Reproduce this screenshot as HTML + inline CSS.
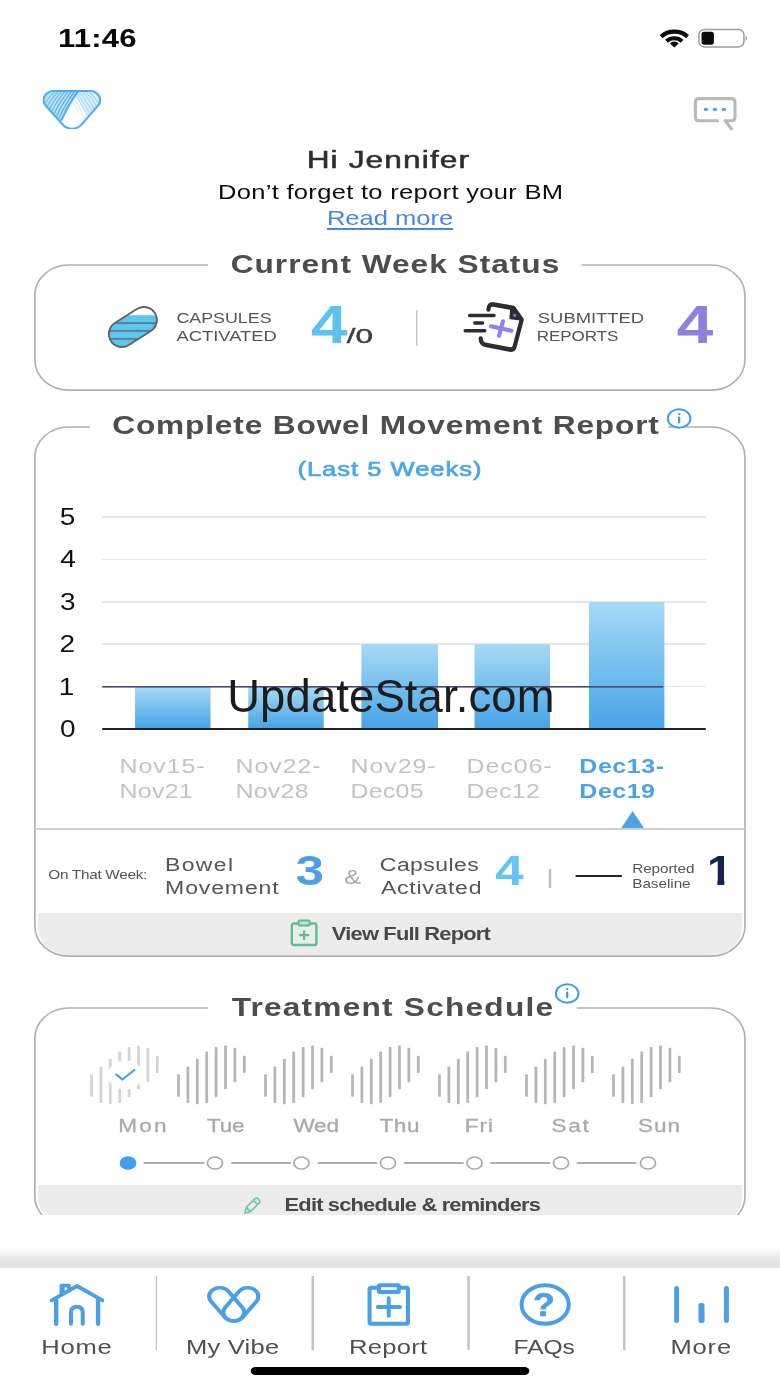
<!DOCTYPE html>
<html><head><meta charset="utf-8"><title>Home</title>
<style>
*{box-sizing:border-box;margin:0;padding:0}
html,body{width:780px;height:1387px;background:#fff;overflow:hidden}
body{position:relative;font-family:"Liberation Sans","DejaVu Sans",sans-serif;color:#222}
#s{position:absolute;left:0;top:0;width:641px;height:1387px;transform:scaleX(1.216849);transform-origin:0 0}
.abs{position:absolute}
.t{position:absolute;white-space:nowrap}
.card{position:absolute;border:2px solid #c2c2c2;border-radius:30px/31px}
#wm{position:absolute;white-space:nowrap;left:227.200px;top:673.800px;font-size:45.400px;line-height:45.400px;color:#1c1c1c;letter-spacing:0.140px}
</style></head><body>
<div id="s">
<div class="t" style="left:47.73px;top:25.91px;font-size:25.5px;line-height:25.5px;letter-spacing:0.180px;color:#0a0a0a;font-weight:bold;">11:46</div>
<svg class="abs" style="left:540.74px;top:28px;" width="26.3" height="21" viewBox="0 0 32 21" preserveAspectRatio="none">
<path d="M2.800 8.600 A18.500 16.500 0 0 1 29.200 8.600" fill="none" stroke="#0a0a0a" stroke-width="4.200"/>
<path d="M8.200 13.300 A11 10 0 0 1 23.800 13.300" fill="none" stroke="#0a0a0a" stroke-width="4"/>
<path d="M16 19.600 L11.600 15.400 A6.300 6.300 0 0 1 20.400 15.400 Z" fill="#0a0a0a"/></svg>
<svg class="abs" style="left:571.97px;top:28px;" width="44.38" height="22" viewBox="0 0 54 22" preserveAspectRatio="none">
<rect x="2.900" y="1.500" width="45" height="17.400" rx="5.400" fill="#fff" stroke="#9c9c9c" stroke-width="1.500"/>
<rect x="5.500" y="3.700" width="12.400" height="13" rx="2.600" fill="#0a0a0a"/>
<path d="M49.600 7.600 Q52.600 10.400 49.600 13.200 Z" fill="#9c9c9c"/></svg>
<svg class="abs" style="left:35.25px;top:89.600px" width="48.16" height="39.4" viewBox="0 0 48.16 39.4"><defs><clipPath id="lc"><path d="M10.10 0.80 L38.06 0.80 A9.3 9.3 0 0 1 45.63 15.50 L31.85 34.80 A9.3 9.3 0 0 1 16.78 34.91 L2.61 15.61 A9.3 9.3 0 0 1 10.10 0.80 Z"/></clipPath></defs><g clip-path="url(#lc)"><path d="M10.10 0.80 L38.06 0.80 A9.3 9.3 0 0 1 45.63 15.50 L31.85 34.80 A9.3 9.3 0 0 1 16.78 34.91 L2.61 15.61 A9.3 9.3 0 0 1 10.10 0.80 Z" fill="#fff"/><path d="M15.34 30.6 L29.6 0 L0 0 L0 39.4 Z" fill="#a8dbf7" fill-opacity="0.800"/><path d="M36.66 26 L24.16 0 L48.16 0 L48.16 39.4 Z" fill="#d2ecfb" fill-opacity="0.850"/><path d="M32.82 30.60 Q26.99 14.50 18.56 0.20" fill="none" stroke="#7cc6f2" stroke-opacity="0.25" stroke-width="0.900"/><path d="M34.69 28.17 Q29.21 13.29 21.13 0.20" fill="none" stroke="#7cc6f2" stroke-opacity="0.32" stroke-width="0.900"/><path d="M36.57 25.74 Q31.44 12.07 23.70 0.20" fill="none" stroke="#7cc6f2" stroke-opacity="0.39" stroke-width="0.900"/><path d="M38.45 23.31 Q33.66 10.86 26.27 0.20" fill="none" stroke="#7cc6f2" stroke-opacity="0.46" stroke-width="0.900"/><path d="M40.33 20.89 Q35.88 9.64 28.84 0.20" fill="none" stroke="#7cc6f2" stroke-opacity="0.53" stroke-width="0.900"/><path d="M42.20 18.46 Q38.11 8.43 31.41 0.20" fill="none" stroke="#7cc6f2" stroke-opacity="0.60" stroke-width="0.900"/><path d="M44.08 16.03 Q40.33 7.21 33.99 0.20" fill="none" stroke="#7cc6f2" stroke-opacity="0.67" stroke-width="0.900"/><path d="M45.96 13.60 Q42.56 6.00 36.56 0.20" fill="none" stroke="#7cc6f2" stroke-opacity="0.74" stroke-width="0.900"/><circle cx="24.28" cy="29.40" r="8.700000000000001" fill="#fff"/><path d="M15.34 30.60 Q21.17 14.50 29.60 0.20" fill="none" stroke="#4aa6ea" stroke-opacity="0.95" stroke-width="1.7"/><path d="M13.46 28.17 Q18.95 13.29 27.03 0.20" fill="none" stroke="#4aa6ea" stroke-opacity="0.90" stroke-width="1.05"/><path d="M11.59 25.74 Q16.72 12.07 24.46 0.20" fill="none" stroke="#4aa6ea" stroke-opacity="0.85" stroke-width="1.05"/><path d="M9.71 23.31 Q14.50 10.86 21.89 0.20" fill="none" stroke="#4aa6ea" stroke-opacity="0.80" stroke-width="1.05"/><path d="M7.83 20.89 Q12.27 9.64 19.31 0.20" fill="none" stroke="#4aa6ea" stroke-opacity="0.75" stroke-width="1.05"/><path d="M5.95 18.46 Q10.05 8.43 16.74 0.20" fill="none" stroke="#4aa6ea" stroke-opacity="0.70" stroke-width="1.05"/><path d="M4.08 16.03 Q7.82 7.21 14.17 0.20" fill="none" stroke="#4aa6ea" stroke-opacity="0.65" stroke-width="1.05"/><path d="M2.20 13.60 Q5.60 6.00 11.60 0.20" fill="none" stroke="#4aa6ea" stroke-opacity="0.60" stroke-width="1.05"/></g><path d="M10.10 0.80 L38.06 0.80 A9.3 9.3 0 0 1 45.63 15.50 L31.85 34.80 A9.3 9.3 0 0 1 16.78 34.91 L2.61 15.61 A9.3 9.3 0 0 1 10.10 0.80 Z" fill="none" stroke="#4eaeec" stroke-width="1.900"/><path d="M11.3 0.9 H36.86" stroke="#4aa6ea" stroke-width="1.600" stroke-linecap="round"/></svg>
<svg class="abs" style="left:568.68px;top:95px;" width="39.45" height="38" viewBox="0 0 48 38" preserveAspectRatio="none">
<path d="M32.400 25.800 H39.100 Q42.600 25.800 42.600 22.300 V7.100 Q42.600 3.600 39.100 3.600 H6.500 Q3 3.600 3 7.100 V22.300 Q3 25.800 6.500 25.800 H26.300" fill="none" stroke="#b9b9b9" stroke-width="3.100" stroke-linecap="butt"/>
<path d="M32.600 25.600 L39 33.800" stroke="#b9b9b9" stroke-width="3.100" stroke-linecap="round"/>
<ellipse cx="13.600" cy="14.400" rx="2.300" ry="1.650" fill="#4aa3e6"/><ellipse cx="22.600" cy="14.400" rx="2.300" ry="1.650" fill="#4aa3e6"/><ellipse cx="31.500" cy="14.400" rx="2.300" ry="1.650" fill="#4aa3e6"/></svg>
<div class="t" style="left:251.56px;top:149.13px;font-size:23px;line-height:23px;letter-spacing:0.817px;color:#2e2e2e;-webkit-text-stroke:0.500px #2e2e2e;transform:scaleX(1.13);transform-origin:0 0;">Hi Jennifer</div>
<div class="t" style="left:179.07px;top:181.22px;font-size:21px;line-height:21px;letter-spacing:0.244px;color:#0d0d0d;">Don’t forget to report your BM</div>
<div class="t" style="left:268.65px;top:206.82px;font-size:21px;line-height:21px;letter-spacing:-0.020px;color:#4a86e0;text-decoration:underline;text-decoration-thickness:1.500px;text-underline-offset:2.500px;">Read more</div>
<div class="abs" style="left:30.65px;top:266.4px;width:579.61px;height:122.7px;border-radius:24.65px/28.5px;overflow:hidden"></div>
<svg class="abs" style="left:27.04px;top:263.2px;" width="586.84" height="129.10000000000002" viewBox="0 0 714.1 129.1" preserveAspectRatio="none"><rect x="2" y="2" width="710.1" height="125.1" rx="34" ry="30" fill="none" stroke="#b0b0b0" stroke-width="1.650"/></svg>
<div class="abs" style="left:170.93px;top:255px;width:307.35px;height:20px;background:#fff;"></div>
<div class="t" style="left:189.59px;top:250.99px;font-size:26px;line-height:26px;letter-spacing:0.821px;color:#4d4d4d;font-weight:bold;">Current Week Status</div>
<svg class="abs" style="left:87.11px;top:304px;" width="45.2" height="46" viewBox="0 0 55 46" preserveAspectRatio="none">
<defs><clipPath id="pc"><rect x="0.950" y="10" width="52.100" height="26" rx="13" transform="rotate(-32.500 27 23)"/></clipPath></defs>
<g clip-path="url(#pc)">
<rect x="0" y="0" width="55" height="46" fill="#fff"/>
<rect x="0" y="11.200" width="55" height="36" fill="#5bc6ee"/>
<g stroke="#557a90" stroke-width="1.800"><path d="M0 19.100 H55 M0 26.900 H55 M0 34.800 H55"/></g>
</g>
<rect x="0.950" y="10" width="52.100" height="26" rx="13" transform="rotate(-32.500 27 23)" fill="none" stroke="#636363" stroke-width="1.900"/></svg>
<div class="t" style="left:144.72px;top:309.96px;font-size:15.4px;line-height:15.4px;letter-spacing:0.000px;color:#555;transform:scaleX(0.952);transform-origin:0 0;">CAPSULES</div>
<div class="t" style="left:145.43px;top:328.16px;font-size:15.4px;line-height:15.4px;letter-spacing:0.000px;color:#555;transform:scaleX(0.9807);transform-origin:0 0;">ACTIVATED</div>
<div class="t" style="left:255.59px;top:296.89px;font-size:54px;line-height:54px;letter-spacing:0.000px;color:#5cc3f0;font-weight:bold;">4</div>
<div class="t" style="left:284.75px;top:325.57px;font-size:20px;line-height:20px;letter-spacing:0.000px;color:#3c3c3c;-webkit-text-stroke:0.400px #3c3c3c;transform:scaleX(1.2905);transform-origin:0 0;">/0</div>
<div class="abs" style="left:341.87px;top:309.5px;width:1.64px;height:36.0px;background:#bdbdbd;"></div>
<svg class="abs" style="left:379.67px;top:302px;" width="52.59" height="50" viewBox="0 0 64 50" preserveAspectRatio="none">
<g transform="translate(0,25) scale(1,1.090) translate(0,-25)"><path d="M26 9 Q26.300 3.800 31 4.300 L51 7.600 L59.300 18.200 L52.300 42.800 Q51.300 46.400 47.300 45.600 L22.800 41.200 Q18.600 40.300 18.300 35.600" fill="none" stroke="#2d2d2f" stroke-width="4.200" stroke-linejoin="round" stroke-linecap="round"/>
<path d="M48.600 6.500 L59.800 18.500 L47.800 17.200 Z" fill="#2d2d2f" stroke="#2d2d2f" stroke-width="1.500" stroke-linejoin="round"/>
<circle cx="52.300" cy="14.300" r="1.600" fill="#7a6fd0"/></g>
<path d="M7.200 13.600 H31.600 M12.400 21.100 H20.200 M2.800 28.800 H22.400" stroke="#2d2d2f" stroke-width="3.500" stroke-linecap="round"/>
<path d="M40.600 19.300 L36.600 33.800 M28.600 24.300 L49 28.700" stroke="#8f82ee" stroke-width="4.200" stroke-linecap="round"/></svg>
<div class="t" style="left:441.77px;top:309.96px;font-size:15.4px;line-height:15.4px;letter-spacing:0.000px;color:#555;transform:scaleX(0.9817);transform-origin:0 0;">SUBMITTED</div>
<div class="t" style="left:441.31px;top:328.16px;font-size:15.4px;line-height:15.4px;letter-spacing:0.000px;color:#555;transform:scaleX(0.9059);transform-origin:0 0;">REPORTS</div>
<div class="t" style="left:556.20px;top:296.89px;font-size:54px;line-height:54px;letter-spacing:0.000px;color:#8d80e0;font-weight:bold;">4</div>
<div class="abs" style="left:30.65px;top:427.8px;width:579.61px;height:526.8px;border-radius:24.65px/28.5px;overflow:hidden"><div class="abs" style="left:0;top:485.7px;width:100%;height:47.3px;background:#ececec"></div></div>
<svg class="abs" style="left:27.04px;top:424.6px;" width="586.84" height="533.1999999999999" viewBox="0 0 714.1 533.2" preserveAspectRatio="none"><rect x="2" y="2" width="710.1" height="529.2" rx="34" ry="30" fill="none" stroke="#b0b0b0" stroke-width="1.650"/></svg>
<div class="abs" style="left:73.96px;top:415px;width:475.0px;height:22px;background:#fff;"></div>
<div class="t" style="left:92.21px;top:411.59px;font-size:26px;line-height:26px;letter-spacing:0.697px;color:#4d4d4d;font-weight:bold;">Complete Bowel Movement Report</div>
<svg class="abs" style="left:546.58px;top:406.8px;" width="22.19" height="23.0" viewBox="0 0 27 23" preserveAspectRatio="none">
<ellipse cx="13.500" cy="11.500" rx="11.300" ry="9.200" fill="#fff" stroke="#3f9fe6" stroke-width="2"/>
<path d="M13.500 10.700 V15.300" stroke="#3f9fe6" stroke-width="2.300" stroke-linecap="round"/><ellipse cx="13.500" cy="7.100" rx="1.350" ry="1.150" fill="#3f9fe6"/></svg>
<div class="t" style="left:244.41px;top:457.72px;font-size:21px;line-height:21px;letter-spacing:0.809px;color:#4ba6ea;-webkit-text-stroke:0.700px #4ba6ea;">(Last 5 Weeks)</div>
<div class="abs" style="left:83.82px;top:516.2px;width:496.36px;height:1.599999999999909px;background:#e6e6e6;"></div>
<div class="abs" style="left:83.82px;top:558.6px;width:496.36px;height:1.599999999999909px;background:#e6e6e6;"></div>
<div class="abs" style="left:83.82px;top:601.0px;width:496.36px;height:1.599999999999909px;background:#e6e6e6;"></div>
<div class="abs" style="left:83.82px;top:643.4000000000001px;width:496.36px;height:1.599999999999909px;background:#e6e6e6;"></div>
<div class="abs" style="left:83.82px;top:685.8000000000001px;width:496.36px;height:1.599999999999909px;background:#e6e6e6;"></div>
<div class="t" style="left:49.21px;top:505.93px;font-size:23px;line-height:23px;letter-spacing:0.000px;color:#111;">5</div>
<div class="t" style="left:49.62px;top:548.33px;font-size:23px;line-height:23px;letter-spacing:0.000px;color:#111;">4</div>
<div class="t" style="left:49.26px;top:590.73px;font-size:23px;line-height:23px;letter-spacing:0.000px;color:#111;">3</div>
<div class="t" style="left:48.98px;top:633.13px;font-size:23px;line-height:23px;letter-spacing:0.000px;color:#111;">2</div>
<div class="t" style="left:48.38px;top:675.53px;font-size:23px;line-height:23px;letter-spacing:0.000px;color:#111;">1</div>
<div class="t" style="left:49.23px;top:717.93px;font-size:23px;line-height:23px;letter-spacing:0.000px;color:#111;">0</div>
<div class="abs" style="left:110.94px;top:687px;width:62.46px;height:41px;background:linear-gradient(#a6daf6,#48a4e6);"></div>
<div class="abs" style="left:203.81px;top:687px;width:62.46px;height:41px;background:linear-gradient(#a6daf6,#48a4e6);"></div>
<div class="abs" style="left:297.49px;top:644.2px;width:62.46px;height:83.79999999999995px;background:linear-gradient(#a6daf6,#48a4e6);"></div>
<div class="abs" style="left:390.35px;top:644.2px;width:62.05px;height:83.79999999999995px;background:linear-gradient(#a6daf6,#48a4e6);"></div>
<div class="abs" style="left:484.04px;top:601.5px;width:62.46px;height:126.5px;background:linear-gradient(#a6daf6,#48a4e6);"></div>
<div class="abs" style="left:83.82px;top:686px;width:461.03px;height:2px;background:linear-gradient(#494975 0,#494975 50%,rgba(73,73,117,0.600) 50%);"></div>
<div class="abs" style="left:83.82px;top:727.6px;width:496.36px;height:2.0px;background:#222;"></div>
<div class="t" style="left:98.17px;top:756.45px;font-size:20.5px;line-height:20.5px;letter-spacing:0.776px;color:#c3c3c3;">Nov15-</div>
<div class="t" style="left:98.17px;top:781.15px;font-size:20.5px;line-height:20.5px;letter-spacing:0.236px;color:#c3c3c3;">Nov21</div>
<div class="t" style="left:193.50px;top:756.45px;font-size:20.5px;line-height:20.5px;letter-spacing:0.776px;color:#c3c3c3;">Nov22-</div>
<div class="t" style="left:193.50px;top:781.15px;font-size:20.5px;line-height:20.5px;letter-spacing:0.211px;color:#c3c3c3;">Nov28</div>
<div class="t" style="left:288.00px;top:756.45px;font-size:20.5px;line-height:20.5px;letter-spacing:0.776px;color:#c3c3c3;">Nov29-</div>
<div class="t" style="left:288.00px;top:781.15px;font-size:20.5px;line-height:20.5px;letter-spacing:0.201px;color:#c3c3c3;">Dec05</div>
<div class="t" style="left:383.33px;top:756.45px;font-size:20.5px;line-height:20.5px;letter-spacing:0.776px;color:#c3c3c3;">Dec06-</div>
<div class="t" style="left:383.33px;top:781.15px;font-size:20.5px;line-height:20.5px;letter-spacing:0.247px;color:#c3c3c3;">Dec12</div>
<div class="t" style="left:476.11px;top:756.45px;font-size:20.5px;line-height:20.5px;letter-spacing:0.464px;color:#4ba3e6;font-weight:bold;">Dec13-</div>
<div class="t" style="left:476.11px;top:781.15px;font-size:20.5px;line-height:20.5px;letter-spacing:0.417px;color:#4ba3e6;font-weight:bold;">Dec19</div>
<svg class="abs" style="left:509.51px;top:811px;" width="19.72" height="18" viewBox="0 0 24 18" preserveAspectRatio="none"><path d="M12 0 L24 18 H0 Z" fill="#4ba3e6"/></svg>
<div class="abs" style="left:29.58px;top:828px;width:582.24px;height:1.6000000000000227px;background:#cfcfcf;"></div>
<div class="t" style="left:39.68px;top:869.33px;font-size:12.6px;line-height:12.6px;letter-spacing:-0.236px;color:#555;">On That Week:</div>
<div class="t" style="left:135.69px;top:855.60px;font-size:18.9px;line-height:18.9px;letter-spacing:1.085px;color:#555;">Bowel</div>
<div class="t" style="left:135.69px;top:878.60px;font-size:18.9px;line-height:18.9px;letter-spacing:0.724px;color:#555;">Movement</div>
<div class="t" style="left:242.82px;top:850.05px;font-size:42px;line-height:42px;letter-spacing:0.000px;color:#4a9fe8;font-weight:bold;">3</div>
<div class="t" style="left:282.78px;top:866.22px;font-size:21px;line-height:21px;letter-spacing:0.000px;color:#aaa;">&amp;</div>
<div class="t" style="left:312.16px;top:855.60px;font-size:18.9px;line-height:18.9px;letter-spacing:0.364px;color:#555;">Capsules</div>
<div class="t" style="left:313.07px;top:878.60px;font-size:18.9px;line-height:18.9px;letter-spacing:0.609px;color:#555;">Activated</div>
<div class="t" style="left:406.98px;top:850.05px;font-size:42px;line-height:42px;letter-spacing:0.000px;color:#63c6f1;font-weight:bold;">4</div>
<div class="abs" style="left:451.17px;top:869px;width:1.64px;height:18.5px;background:#bdbdbd;"></div>
<div class="abs" style="left:472.53px;top:874.6px;width:38.21px;height:2.0px;background:#1d2140;"></div>
<div class="t" style="left:519.57px;top:862.93px;font-size:12.6px;line-height:12.6px;letter-spacing:-0.098px;color:#555;">Reported</div>
<div class="t" style="left:519.57px;top:877.93px;font-size:12.6px;line-height:12.6px;letter-spacing:-0.045px;color:#555;">Baseline</div>
<div class="t" id="one" style="left:580.52px;top:849.65px;font-size:42px;line-height:42px;font-weight:bold;color:#18224f;transform:scaleX(0.9);transform-origin:0 0;clip-path:polygon(0 0,100% 0,100% 0.722em,0.378em 0.722em,0.378em 1em,0.226em 1em,0.226em 0.722em,0 0.722em)">1</div>
<svg class="abs" style="left:238.32px;top:919px;" width="23.83" height="28" viewBox="0 0 29 28" preserveAspectRatio="none">
<rect x="2.200" y="4.500" width="24.600" height="21.500" rx="2" fill="none" stroke="#5dbd94" stroke-width="2.400"/>
<rect x="9" y="1.400" width="11" height="5.200" rx="1" fill="#bfe3d2" stroke="#5dbd94" stroke-width="2"/>
<path d="M14.500 11.500 V21 M9.500 16.200 H19.500" stroke="#5dbd94" stroke-width="2.200"/></svg>
<div class="t" style="left:272.73px;top:924.76px;font-size:18px;line-height:18px;letter-spacing:-0.674px;color:#484848;font-weight:bold;">View Full Report</div>
<div class="abs" style="left:30.65px;top:1008.8px;width:579.61px;height:216.0px;border-radius:24.65px/28.5px;overflow:hidden"><div class="abs" style="left:0;top:176.2px;width:100%;height:46.0px;background:#ececec"></div></div>
<svg class="abs" style="left:27.04px;top:1005.6px;" width="586.84" height="222.39999999999998" viewBox="0 0 714.1 222.4" preserveAspectRatio="none"><rect x="2" y="2" width="710.1" height="218.4" rx="34" ry="30" fill="none" stroke="#b0b0b0" stroke-width="1.650"/></svg>
<div class="abs" style="left:170.93px;top:996px;width:303.24px;height:22px;background:#fff;"></div>
<div class="t" style="left:190.37px;top:993.99px;font-size:26px;line-height:26px;letter-spacing:1.004px;color:#4d4d4d;font-weight:bold;">Treatment Schedule</div>
<svg class="abs" style="left:455.11px;top:981.9px;" width="22.19" height="23.0" viewBox="0 0 27 23" preserveAspectRatio="none">
<ellipse cx="13.500" cy="11.500" rx="11.300" ry="9.200" fill="#fff" stroke="#3f9fe6" stroke-width="2"/>
<path d="M13.500 10.700 V15.300" stroke="#3f9fe6" stroke-width="2.300" stroke-linecap="round"/><ellipse cx="13.500" cy="7.100" rx="1.350" ry="1.150" fill="#3f9fe6"/></svg>
<svg class="abs" style="left:0;top:1040px" width="641" height="70" viewBox="0 0 780 70" preserveAspectRatio="none"><rect x="90.1" y="34.2" width="2.800" height="22.6" rx="0.800" fill="#d4d4d4"/><rect x="99.5" y="26.6" width="2.800" height="36.5" rx="0.800" fill="#d4d4d4"/><rect x="108.9" y="18.8" width="2.800" height="45.4" rx="0.800" fill="#d4d4d4"/><rect x="118.3" y="11.6" width="2.800" height="51.5" rx="0.800" fill="#d4d4d4"/><rect x="127.7" y="7.0" width="2.800" height="50.3" rx="0.800" fill="#d4d4d4"/><rect x="137.1" y="5.4" width="2.800" height="43.8" rx="0.800" fill="#d4d4d4"/><rect x="146.5" y="7.7" width="2.800" height="34.6" rx="0.800" fill="#d4d4d4"/><rect x="155.9" y="15.8" width="2.800" height="17.3" rx="0.800" fill="#d4d4d4"/><rect x="177.1" y="34.2" width="2.800" height="22.6" rx="0.800" fill="#b6b6b6"/><rect x="186.5" y="26.6" width="2.800" height="36.5" rx="0.800" fill="#b6b6b6"/><rect x="195.9" y="18.8" width="2.800" height="45.4" rx="0.800" fill="#b6b6b6"/><rect x="205.3" y="11.6" width="2.800" height="51.5" rx="0.800" fill="#b6b6b6"/><rect x="214.7" y="7.0" width="2.800" height="50.3" rx="0.800" fill="#b6b6b6"/><rect x="224.1" y="5.4" width="2.800" height="43.8" rx="0.800" fill="#b6b6b6"/><rect x="233.5" y="7.7" width="2.800" height="34.6" rx="0.800" fill="#b6b6b6"/><rect x="242.9" y="15.8" width="2.800" height="17.3" rx="0.800" fill="#b6b6b6"/><rect x="264.1" y="34.2" width="2.800" height="22.6" rx="0.800" fill="#b6b6b6"/><rect x="273.5" y="26.6" width="2.800" height="36.5" rx="0.800" fill="#b6b6b6"/><rect x="282.9" y="18.8" width="2.800" height="45.4" rx="0.800" fill="#b6b6b6"/><rect x="292.3" y="11.6" width="2.800" height="51.5" rx="0.800" fill="#b6b6b6"/><rect x="301.7" y="7.0" width="2.800" height="50.3" rx="0.800" fill="#b6b6b6"/><rect x="311.1" y="5.4" width="2.800" height="43.8" rx="0.800" fill="#b6b6b6"/><rect x="320.5" y="7.7" width="2.800" height="34.6" rx="0.800" fill="#b6b6b6"/><rect x="329.9" y="15.8" width="2.800" height="17.3" rx="0.800" fill="#b6b6b6"/><rect x="351.1" y="34.2" width="2.800" height="22.6" rx="0.800" fill="#b6b6b6"/><rect x="360.5" y="26.6" width="2.800" height="36.5" rx="0.800" fill="#b6b6b6"/><rect x="369.9" y="18.8" width="2.800" height="45.4" rx="0.800" fill="#b6b6b6"/><rect x="379.3" y="11.6" width="2.800" height="51.5" rx="0.800" fill="#b6b6b6"/><rect x="388.7" y="7.0" width="2.800" height="50.3" rx="0.800" fill="#b6b6b6"/><rect x="398.1" y="5.4" width="2.800" height="43.8" rx="0.800" fill="#b6b6b6"/><rect x="407.5" y="7.7" width="2.800" height="34.6" rx="0.800" fill="#b6b6b6"/><rect x="416.9" y="15.8" width="2.800" height="17.3" rx="0.800" fill="#b6b6b6"/><rect x="438.1" y="34.2" width="2.800" height="22.6" rx="0.800" fill="#b6b6b6"/><rect x="447.5" y="26.6" width="2.800" height="36.5" rx="0.800" fill="#b6b6b6"/><rect x="456.9" y="18.8" width="2.800" height="45.4" rx="0.800" fill="#b6b6b6"/><rect x="466.3" y="11.6" width="2.800" height="51.5" rx="0.800" fill="#b6b6b6"/><rect x="475.7" y="7.0" width="2.800" height="50.3" rx="0.800" fill="#b6b6b6"/><rect x="485.1" y="5.4" width="2.800" height="43.8" rx="0.800" fill="#b6b6b6"/><rect x="494.5" y="7.7" width="2.800" height="34.6" rx="0.800" fill="#b6b6b6"/><rect x="503.9" y="15.8" width="2.800" height="17.3" rx="0.800" fill="#b6b6b6"/><rect x="525.1" y="34.2" width="2.800" height="22.6" rx="0.800" fill="#b6b6b6"/><rect x="534.5" y="26.6" width="2.800" height="36.5" rx="0.800" fill="#b6b6b6"/><rect x="543.9" y="18.8" width="2.800" height="45.4" rx="0.800" fill="#b6b6b6"/><rect x="553.3" y="11.6" width="2.800" height="51.5" rx="0.800" fill="#b6b6b6"/><rect x="562.7" y="7.0" width="2.800" height="50.3" rx="0.800" fill="#b6b6b6"/><rect x="572.1" y="5.4" width="2.800" height="43.8" rx="0.800" fill="#b6b6b6"/><rect x="581.5" y="7.7" width="2.800" height="34.6" rx="0.800" fill="#b6b6b6"/><rect x="590.9" y="15.8" width="2.800" height="17.3" rx="0.800" fill="#b6b6b6"/><rect x="612.1" y="34.2" width="2.800" height="22.6" rx="0.800" fill="#b6b6b6"/><rect x="621.5" y="26.6" width="2.800" height="36.5" rx="0.800" fill="#b6b6b6"/><rect x="630.9" y="18.8" width="2.800" height="45.4" rx="0.800" fill="#b6b6b6"/><rect x="640.3" y="11.6" width="2.800" height="51.5" rx="0.800" fill="#b6b6b6"/><rect x="649.7" y="7.0" width="2.800" height="50.3" rx="0.800" fill="#b6b6b6"/><rect x="659.1" y="5.4" width="2.800" height="43.8" rx="0.800" fill="#b6b6b6"/><rect x="668.5" y="7.7" width="2.800" height="34.6" rx="0.800" fill="#b6b6b6"/><rect x="677.9" y="15.8" width="2.800" height="17.3" rx="0.800" fill="#b6b6b6"/></svg>
<svg class="abs" style="left:87.11px;top:1058px;" width="32.87" height="34" viewBox="0 0 40 34" preserveAspectRatio="none">
<ellipse cx="19.500" cy="17" rx="17.500" ry="14.500" fill="#fff"/>
<path d="M10.500 16.500 L16.500 21.500 L28.500 12" fill="none" stroke="#3aa0e8" stroke-width="2.200" stroke-linecap="round" stroke-linejoin="round"/></svg>
<div class="t" style="left:97.10px;top:1116.84px;font-size:18.5px;line-height:18.5px;letter-spacing:1.850px;color:#a9a9a9;-webkit-text-stroke:0.300px #a9a9a9;">Mon</div>
<div class="t" style="left:170.12px;top:1116.84px;font-size:18.5px;line-height:18.5px;letter-spacing:-0.193px;color:#a9a9a9;-webkit-text-stroke:0.300px #a9a9a9;">Tue</div>
<div class="t" style="left:241.12px;top:1116.84px;font-size:18.5px;line-height:18.5px;letter-spacing:-0.143px;color:#a9a9a9;-webkit-text-stroke:0.300px #a9a9a9;">Wed</div>
<div class="t" style="left:311.88px;top:1116.84px;font-size:18.5px;line-height:18.5px;letter-spacing:0.490px;color:#a9a9a9;-webkit-text-stroke:0.300px #a9a9a9;">Thu</div>
<div class="t" style="left:381.85px;top:1116.84px;font-size:18.5px;line-height:18.5px;letter-spacing:0.865px;color:#a9a9a9;-webkit-text-stroke:0.300px #a9a9a9;">Fri</div>
<div class="t" style="left:453.21px;top:1116.84px;font-size:18.5px;line-height:18.5px;letter-spacing:1.389px;color:#a9a9a9;-webkit-text-stroke:0.300px #a9a9a9;">Sat</div>
<div class="t" style="left:524.29px;top:1116.84px;font-size:18.5px;line-height:18.5px;letter-spacing:0.783px;color:#a9a9a9;-webkit-text-stroke:0.300px #a9a9a9;">Sun</div>
<div class="abs" style="left:118.34px;top:1162px;width:49.31px;height:1.599999999999909px;background:#b0b0b0;"></div>
<div class="abs" style="left:189.83px;top:1162px;width:48.9px;height:1.599999999999909px;background:#b0b0b0;"></div>
<div class="abs" style="left:260.92px;top:1162px;width:48.9px;height:1.599999999999909px;background:#b0b0b0;"></div>
<div class="abs" style="left:332.01px;top:1162px;width:48.9px;height:1.599999999999909px;background:#b0b0b0;"></div>
<div class="abs" style="left:403.09px;top:1162px;width:48.9px;height:1.599999999999909px;background:#b0b0b0;"></div>
<div class="abs" style="left:474.18px;top:1162px;width:49.31px;height:1.599999999999909px;background:#b0b0b0;"></div>
<svg class="abs" style="left:0;top:1153.800px" width="641" height="18" viewBox="0 0 641 18"><ellipse cx="105.19" cy="9" rx="6.9" ry="6.800" fill="#3f9fe8"/><ellipse cx="176.69" cy="9" rx="6.25" ry="6" fill="#fff" stroke="#a8a8a8" stroke-width="1.400"/><ellipse cx="247.77" cy="9" rx="6.25" ry="6" fill="#fff" stroke="#a8a8a8" stroke-width="1.400"/><ellipse cx="318.86" cy="9" rx="6.25" ry="6" fill="#fff" stroke="#a8a8a8" stroke-width="1.400"/><ellipse cx="389.94" cy="9" rx="6.25" ry="6" fill="#fff" stroke="#a8a8a8" stroke-width="1.400"/><ellipse cx="461.03" cy="9" rx="6.25" ry="6" fill="#fff" stroke="#a8a8a8" stroke-width="1.400"/><ellipse cx="532.52" cy="9" rx="6.25" ry="6" fill="#fff" stroke="#a8a8a8" stroke-width="1.400"/></svg>
<svg class="abs" style="left:197.64px;top:1194.5px;" width="18.08" height="22.0" viewBox="0 0 22 22" preserveAspectRatio="none">
<g transform="rotate(45 11 11)" fill="none" stroke="#72c7a6" stroke-width="1.600" stroke-linejoin="round">
<path d="M8 4 Q8 1.500 11 1.500 Q14 1.500 14 4 V16 L11 21 L8 16 Z"/><path d="M8 6 H14 M8 16 H14"/></g></svg>
<div class="t" style="left:233.85px;top:1195.76px;font-size:18px;line-height:18px;letter-spacing:-0.684px;color:#484848;font-weight:bold;">Edit schedule &amp; reminders</div>
<div class="abs" style="left:0;top:1215px;width:641px;height:172px;background:#fff"></div>
<div class="abs" style="left:0;top:1247.500px;width:641px;height:20px;background:linear-gradient(#fff 0%,#f8f8f8 18%,#eaeaea 52%,#e4e4e4 75%,#e3e3e3 100%)"></div>
<div class="abs" style="left:127.79px;top:1275.5px;width:1.48px;height:74.5px;background:#c2c2c2;"></div>
<div class="abs" style="left:256.48px;top:1275.5px;width:1.48px;height:74.5px;background:#c2c2c2;"></div>
<div class="abs" style="left:384.27px;top:1275.5px;width:1.48px;height:74.5px;background:#c2c2c2;"></div>
<div class="abs" style="left:512.06px;top:1275.5px;width:1.48px;height:74.5px;background:#c2c2c2;"></div>
<svg class="abs" style="left:40.27px;top:1281px;" width="46.02" height="45" viewBox="0 0 56 45" preserveAspectRatio="none">
<g fill="none" stroke="#4a9fe6" stroke-linecap="round" stroke-linejoin="round">
<path d="M12.600 13.500 V4.600 H20.400 V8.500" stroke-width="3.600"/>
<path d="M14.500 6.500 V11" stroke-width="3"/>
<path d="M3 19.400 L28.400 5 L53.800 19.400" stroke-width="3.800"/>
<path d="M7.500 19 V42.700 M49.400 19 V42.700" stroke-width="4.400"/>
<path d="M22.300 42.700 V31.500 Q22.300 25.700 28.200 25.700 Q34.100 25.700 34.100 31.500 V42.700" stroke-width="4"/>
</g></svg>
<div class="t" style="left:33.86px;top:1335.92px;font-size:21px;line-height:21px;letter-spacing:0.621px;color:#505050;">Home</div>
<svg class="abs" style="left:169.54px;top:1285.800px" width="44.21" height="36.9" viewBox="0 0 44.21 36.9"><path d="M17.68 5.34 L29.18 21.44 A8.7 8.7 0 0 1 15.03 31.56 L3.52 15.46 A8.7 8.7 0 0 1 17.68 5.34 Z" fill="none" stroke="#4a9fe6" stroke-width="3.500"/><path d="M40.69 15.46 L29.18 31.56 A8.7 8.7 0 0 1 15.03 21.44 L26.53 5.34 A8.7 8.7 0 0 1 40.69 15.46 Z" fill="none" stroke="#4a9fe6" stroke-width="3.500"/></svg>
<div class="t" style="left:152.78px;top:1335.92px;font-size:21px;line-height:21px;letter-spacing:0.189px;color:#505050;">My Vibe</div>
<svg class="abs" style="left:299.96px;top:1281px;" width="38.62" height="46" viewBox="0 0 47 46" preserveAspectRatio="none">
<g fill="none" stroke="#4a9fe6" stroke-linejoin="round">
<rect x="4.500" y="6.800" width="38.400" height="36" rx="1.500" stroke-width="4.100"/>
<rect x="13.900" y="4.200" width="19.900" height="6.900" rx="0.800" fill="#fff" stroke-width="4"/>
<path d="M23.700 17.300 V34.800 M12.800 26 H35" stroke-width="4" stroke-linecap="round"/>
</g></svg>
<div class="t" style="left:286.73px;top:1335.92px;font-size:21px;line-height:21px;letter-spacing:0.257px;color:#505050;">Report</div>
<svg class="abs" style="left:424.87px;top:1283px;" width="46.02" height="43" viewBox="0 0 56 43" preserveAspectRatio="none">
<ellipse cx="28" cy="21.500" rx="23.600" ry="19.300" fill="none" stroke="#4a9fe6" stroke-width="4"/></svg>
<div class="t" id="qm" style="left:438.18px;top:1287.400px;font-size:34px;line-height:34px;font-weight:bold;color:#4a9fe6;-webkit-text-stroke:0.600px #4a9fe6;transform:scaleX(0.86);transform-origin:0 0">?</div>
<div class="t" style="left:421.57px;top:1335.92px;font-size:21px;line-height:21px;letter-spacing:0.000px;color:#505050;transform:scaleX(0.9607);transform-origin:0 0;">FAQs</div>
<div class="abs" style="left:553.89px;top:1286px;width:4.52px;height:36.5px;background:#4a9fe6;border-radius:2px;"></div>
<div class="abs" style="left:574.43px;top:1302.5px;width:4.93px;height:20.0px;background:#4a9fe6;border-radius:2px;"></div>
<div class="abs" style="left:594.98px;top:1286px;width:4.52px;height:36.5px;background:#4a9fe6;border-radius:2px;"></div>
<div class="t" style="left:550.94px;top:1335.92px;font-size:21px;line-height:21px;letter-spacing:0.687px;color:#505050;">More</div>
<div class="abs" style="left:205.86px;top:1366.5px;width:228.87px;height:8.799999999999955px;background:#000;border-radius:5px;"></div>
</div>
<div id="wm">UpdateStar.com</div>
</body></html>
